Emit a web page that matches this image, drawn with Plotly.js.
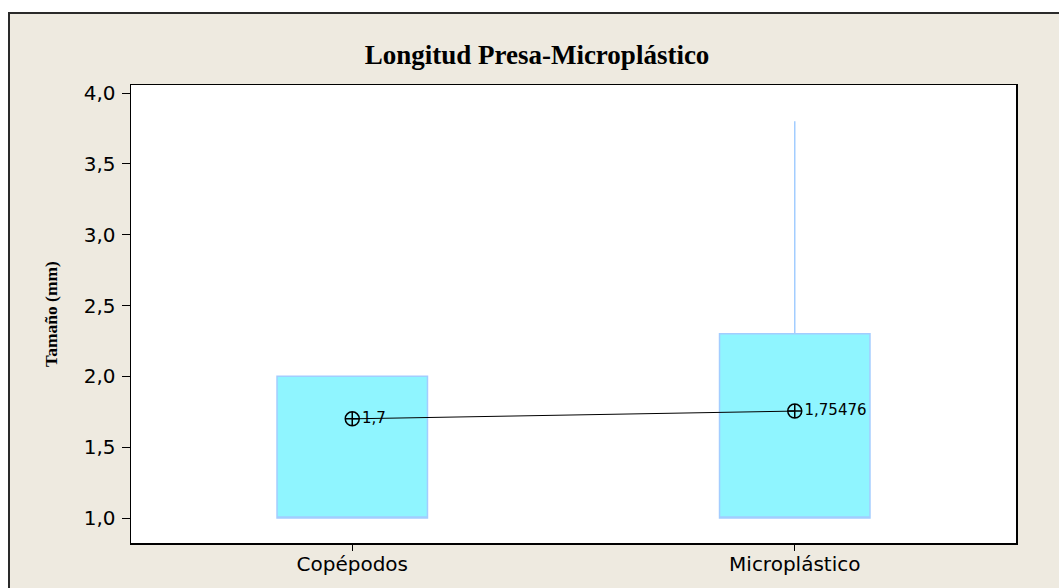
<!DOCTYPE html>
<html>
<head>
<meta charset="utf-8">
<script src="https://cdn.plot.ly/plotly-3.0.1.min.js"></script>
<style>html,body{margin:0;padding:0;background:#fff;}#chart{width:1059px;height:588px;}</style>
</head>
<body>
<div id="chart"></div>
<script>
const categories = ['Copépodos', 'Microplástico'];
const boxQ1 = [1.0, 1.0];
const boxMedian = [1.0, 1.0];
const boxQ3 = [2.0, 2.3];
const boxLower = [1.0, 1.0];
const boxUpper = [2.0, 3.8];
const means = [1.7, 1.75476];
const meanLabels = ['1,7', '1,75476'];
const yTicks = [1.0, 1.5, 2.0, 2.5, 3.0, 3.5, 4.0];

const W = 1059, H = 588;
const L = 131, R = 1016, T = 85, B = 543;
const pw = R - L, ph = B - T;
const px = v => (v - L) / pw;
const py = v => (B - v) / ph;

const traces = [
  {
    type: 'box',
    x: categories,
    q1: boxQ1,
    median: boxMedian,
    q3: boxQ3,
    lowerfence: boxLower,
    upperfence: boxUpper,
    width: 0.34,
    whiskerwidth: 0,
    fillcolor: '#8FF5FF',
    line: {color: '#A3CDFF', width: 1.5},
    boxpoints: false,
    hoverinfo: 'skip',
    showlegend: false
  },
  {
    type: 'scatter',
    x: categories,
    y: means,
    mode: 'lines+markers+text',
    text: meanLabels,
    textposition: 'middle right',
    textfont: {family: 'DejaVu Sans', size: 15, color: '#000'},
    line: {color: '#000', width: 1},
    marker: {symbol: 'circle-cross-open', size: 14, color: '#000', line: {width: 1.5, color: '#000'}},
    showlegend: false,
    cliponaxis: false
  }
];

const layout = {
  width: W, height: H,
  margin: {l: L, r: W - R, t: T, b: H - B, pad: 0},
  paper_bgcolor: '#ffffff',
  plot_bgcolor: '#ffffff',
  showlegend: false,
  font: {family: 'DejaVu Sans', color: '#000'},
  separators: ', ',
  title: {
    text: '<b>Longitud Presa-Microplástico</b>',
    font: {family: 'Liberation Serif', size: 27, color: '#000'},
    xref: 'container', yref: 'container',
    x: 537 / W, y: 1 - 55 / H,
    xanchor: 'center', yanchor: 'middle'
  },
  xaxis: {
    type: 'category',
    range: [-0.5, 1.5],
    showline: true, linecolor: '#000', linewidth: 1.5, mirror: true,
    ticks: 'outside', ticklen: 6, tickwidth: 1, tickcolor: '#000',
    ticklabelstandoff: -4,
    tickfont: {family: 'DejaVu Sans', size: 20, color: '#000'},
    showgrid: false, zeroline: false,
    fixedrange: true
  },
  yaxis: {
    range: [1.0 - (B - 518) / 141.7, 4.0 + (93 - T) / 141.7],
    tickvals: yTicks,
    tickformat: '.1f',
    showline: true, linecolor: '#000', linewidth: 1.5, mirror: true,
    ticks: 'outside', ticklen: 8, tickwidth: 1, tickcolor: '#000',
    ticklabelstandoff: 2,
    tickfont: {family: 'DejaVu Sans', size: 20, color: '#000'},
    showgrid: false, zeroline: false,
    title: {
      text: '<b>Tamaño (mm)</b>',
      font: {family: 'Liberation Serif', size: 17.5, color: '#000'},
      standoff: 21
    },
    automargin: false,
    fixedrange: true
  },
  shapes: [
    {
      type: 'rect', xref: 'paper', yref: 'paper', layer: 'below',
      x0: px(9), x1: px(1080), y0: py(600), y1: py(13),
      fillcolor: '#EEEAE0', line: {color: '#2a2a2a', width: 2}
    },
    {
      type: 'rect', xref: 'paper', yref: 'paper', layer: 'below',
      x0: 0, x1: 1, y0: 0, y1: 1,
      fillcolor: '#ffffff', line: {width: 0}
    }
  ]
};

Plotly.newPlot('chart', traces, layout, {staticPlot: true, displayModeBar: false});
</script>
</body>
</html>
